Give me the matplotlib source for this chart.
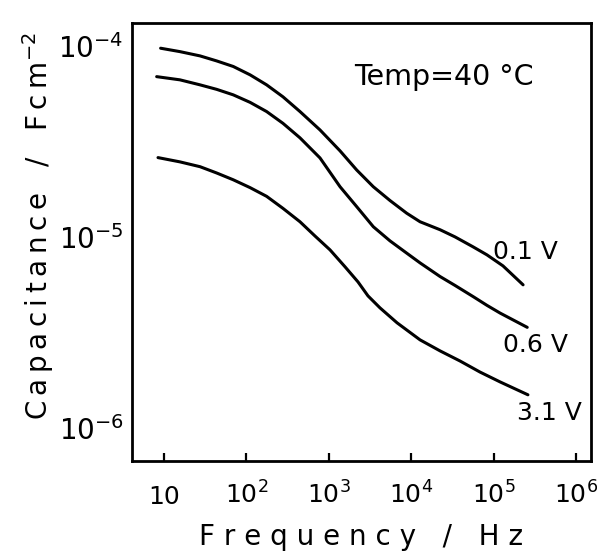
import numpy as np
import matplotlib.pyplot as plt

# frequency (Hz) and capacitance (F cm^-2)
freq_01 = [9.1, 15.6, 27.4, 43.6, 69.3, 111, 176, 278, 447, 782, 1370, 2180, 3470,
           5530, 8820, 12800, 22400, 34000, 56300, 83100, 130000, 228000]
cap_01 = [9.72e-5, 9.33e-5, 8.86e-5, 8.34e-5, 7.80e-5, 7.05e-5, 6.25e-5, 5.41e-5,
          4.53e-5, 3.63e-5, 2.82e-5, 2.24e-5, 1.83e-5, 1.55e-5, 1.33e-5, 1.20e-5,
          1.09e-5, 1.00e-5, 8.87e-6, 8.05e-6, 7.05e-6, 5.61e-6]

freq_06 = [8.15, 15.6, 27.4, 43.6, 69.3, 111, 176, 278, 447, 782, 1370, 2180, 3470,
           5530, 8820, 12800, 22400, 34000, 56800, 83100, 120000, 256000]
cap_06 = [6.90e-5, 6.64e-5, 6.25e-5, 5.92e-5, 5.54e-5, 5.06e-5, 4.53e-5, 3.93e-5,
          3.30e-5, 2.59e-5, 1.83e-5, 1.44e-5, 1.13e-5, 9.53e-6, 8.22e-6, 7.31e-6,
          6.20e-6, 5.57e-6, 4.86e-6, 4.38e-6, 3.99e-6, 3.36e-6]

freq_31 = [8.46, 15.6, 27.4, 43.6, 69.3, 111, 176, 278, 447, 681, 1035, 1575, 2262,
           2990, 4180, 6730, 12800, 22400, 39100, 68400, 120000, 261000]
cap_31 = [2.60e-5, 2.47e-5, 2.33e-5, 2.16e-5, 1.99e-5, 1.81e-5, 1.63e-5, 1.41e-5,
          1.20e-5, 1.01e-5, 8.55e-6, 6.97e-6, 5.81e-6, 4.91e-6, 4.25e-6, 3.55e-6,
          2.89e-6, 2.53e-6, 2.24e-6, 1.96e-6, 1.74e-6, 1.49e-6]

series_labels = ["0.1 V", "0.6 V", "3.1 V"]

xtick_vals = [1e1, 1e2, 1e3, 1e4, 1e5, 1e6]
xtick_labels = ["10", r"$10^{2}$", r"$10^{3}$", r"$10^{4}$", r"$10^{5}$", r"$10^{6}$"]
ytick_vals = [1e-6, 1e-5, 1e-4]
ytick_labels = [r"$10^{-6}$", r"$10^{-5}$", r"$10^{-4}$"]

fig = plt.figure(figsize=(5.97, 5.52), dpi=100)
ax = fig.add_axes([0.2211, 0.1649, 0.7688, 0.7935])

for f, c in [(freq_01, cap_01), (freq_06, cap_06), (freq_31, cap_31)]:
    ax.plot(f, c, color="black", lw=2.2, solid_capstyle="round", solid_joinstyle="round")

ax.set_xscale("log")
ax.set_yscale("log")
ax.set_xlim(4.09, 1.52e6)
ax.set_ylim(6.71e-7, 1.318e-4)

ax.set_xticks(xtick_vals)
ax.set_xticklabels(xtick_labels)
ax.set_yticks(ytick_vals)
ax.set_yticklabels(ytick_labels)
ax.minorticks_off()
ax.tick_params(axis="x", direction="in", length=5.5, width=1.6, pad=31, labelsize=18)
ax.tick_params(axis="y", length=0, pad=6, labelsize=20)
for lab in ax.get_xticklabels():
    lab.set_va("baseline")

for s in ax.spines.values():
    s.set_linewidth(2)

ax.set_xlabel("F r e q u e n c y   /   H z", fontsize=20)
ax.xaxis.set_label_coords(0.5, -0.142)
thin = "\u2009"
ylab = thin.join("Capacitance") + "   /   " + thin.join("Fcm") + r"$^{-2}$"
ax.set_ylabel(ylab, fontsize=20)
ax.yaxis.set_label_coords(-0.165, 0.537)

ax.text(0.484, 0.877, "Temp=40 °C", transform=ax.transAxes, fontsize=20.5,
        ha="left", va="center")

label_pos = [(0.786, 0.477), (0.808, 0.265), (0.838, 0.110)]
for (lx, ly), txt in zip(label_pos, series_labels):
    ax.text(lx, ly, txt, transform=ax.transAxes, fontsize=18, ha="left", va="center")

fig.savefig("out.png", dpi=100)
